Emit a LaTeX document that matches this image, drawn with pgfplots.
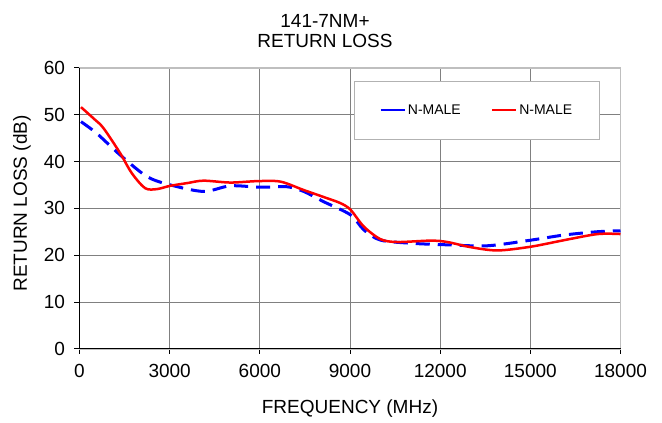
\documentclass[border=0pt]{standalone}
\usepackage{fontspec}
\setmainfont{Liberation Sans}
\usepackage{pgfplots}
\pgfplotsset{compat=1.18}

\definecolor{rlblue}{RGB}{0,0,255}
\definecolor{rlred}{RGB}{255,0,0}

\begin{document}
\begin{tikzpicture}
\useasboundingbox (-79.5bp,-74.2bp) rectangle (582.5bp,348.8bp);
\begin{axis}[
    scale only axis,
    width=541bp, height=281bp,
    xmin=0, xmax=18000, ymin=0, ymax=60,
    xtick={0,3000,...,18000},
    ytick={0,10,...,60},
    scaled x ticks=false,
    /pgf/number format/assume math mode=true,
    /pgf/number format/1000 sep={},
    font=\fontsize{19bp}{20bp}\selectfont,
    grid=major,
    major grid style={draw=black!50, line width=0.8bp},
    axis line style={draw=black!25, line width=1.5bp},
    tick style={black, line width=0.8bp},
    tick align=outside,
    major tick length=5bp,
    xtick pos=bottom, ytick pos=left,
    xticklabel style={anchor=base, yshift=-24bp},
    yticklabel style={anchor=east, xshift=-6bp},
    xlabel={FREQUENCY (MHz)},
    ylabel={RETURN LOSS (dB)},
    xlabel style={at={(rel axis cs:0.5,0)}, anchor=center, yshift=-60bp},
    ylabel style={at={(rel axis cs:0,0.517)}, anchor=center, yshift=57.5bp},
    title={141-7NM+\\RETURN LOSS},
    title style={at={(rel axis cs:0.4538,1.109)}, anchor=center, align=center},
    legend columns=2,
    legend style={at={(rel axis cs:0.5074,0.9548)}, anchor=north west,
        draw=black!30, line width=0.8bp, font=\fontsize{14bp}{16bp}\selectfont,
        inner xsep=25bp, inner ysep=21.5bp,
        /tikz/every even column/.append style={column sep=28bp}},
    legend image code/.code={\draw[#1, solid, line width=2.5bp] (0bp,0bp) -- (24bp,0bp);},
    after end axis/.code={
        \draw[black, line width=1bp] (rel axis cs:0,1) -- (rel axis cs:0,0) -- (rel axis cs:1,0);
    },
]
\addplot[rlblue, line width=3bp, dash pattern=on 14bp off 8bp, smooth, tension=0.5] coordinates {
(50,48.5) (573,46.0) (1350,41.4) (2240,36.8) (3017,35.0) (4127,33.6) (5017,34.8)
(6017,34.5) (6907,34.6) (7460,33.6) (8127,31.4) (9017,28.6) (9460,25.4)
(10017,23.2) (11127,22.5) (12240,22.2) (13573,22.0) (15017,23.2) (16127,24.3)
(17240,25.0) (18000,25.2)
};
\addlegendentry{N-MALE}
\addplot[rlred, line width=2.5bp, smooth, tension=0.5] coordinates {
(50,51.6) (500,49.0) (800,47.1) (1350,41.8) (1740,37.5) (2183,34.3) (2573,34.1)
(3017,34.8) (3600,35.4) (4127,35.9) (5017,35.5) (5907,35.8) (6683,35.7)
(7460,33.9) (8127,32.4) (8683,31.1) (9017,29.7) (9460,26.1) (10017,23.4)
(10573,22.8) (11683,23.1) (12240,22.8) (13017,21.7) (13907,21.0) (15017,21.8)
(16127,23.2) (17240,24.5) (18000,24.5)
};
\addlegendentry{N-MALE}
\end{axis}
\end{tikzpicture}
\end{document}
